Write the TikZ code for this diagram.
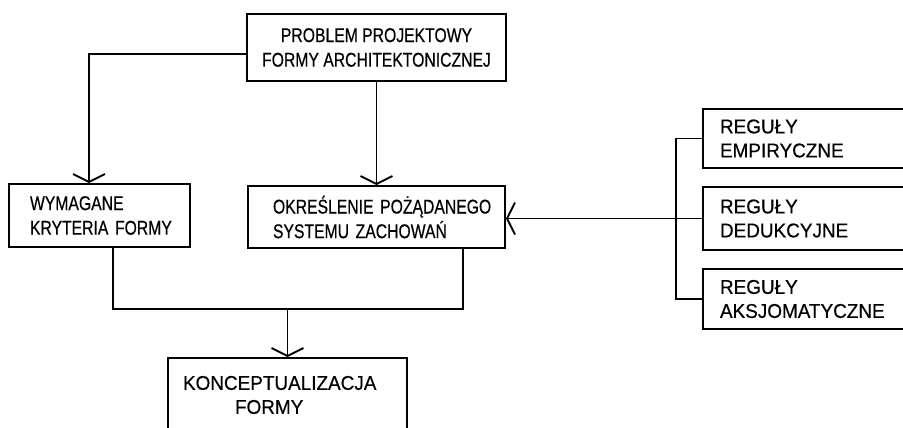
\documentclass[tikz,border=0pt]{standalone}
\usepackage{fontspec}
\setmainfont{Liberation Sans}[FakeStretch=0.95,FakeBold=0.5]
\newfontfamily\condensed{Liberation Sans}[FakeStretch=0.79,FakeBold=0.5]
\usetikzlibrary{arrows.meta}

\begin{document}
\begin{tikzpicture}[x=0.3mm,y=-0.3mm,
  box/.style={draw, line width=1.6pt, inner xsep=0pt, inner ysep=0pt, align=left, font=\fontsize{17}{20.5}\selectfont},
  narrow/.style={font=\condensed\fontsize{17}{21}\selectfont},
  link/.style={draw, line width=1.6pt},
  arr/.style={link, -{Straight Barb[length=2.4mm,width=9.6mm]}}]
\clip (0,0) rectangle (903,427);

\node[box, narrow, align=center, minimum width=77.7mm, minimum height=20.1mm] (problem) at (376.5,47.5) {PROBLEM PROJEKTOWY\\FORMY ARCHITEKTONICZNEJ};
\node[box, narrow, text width=41.7mm, minimum width=54.3mm, minimum height=18.9mm] (kryteria) at (99.5,215.5) {\mbox{WYMAGANE}\\\mbox{KRYTERIA FORMY}};
\node[box, narrow, text width=62.1mm, minimum width=77.1mm, minimum height=18.6mm] (system) at (376.5,217) {\mbox{OKREŚLENIE POŻĄDANEGO}\\\mbox{SYSTEMU ZACHOWAŃ}};
\node[box, text width=66.9mm, minimum width=77.1mm, minimum height=17.7mm] (empiryczne) at (831.5,138.5) {REGUŁY\\EMPIRYCZNE};
\node[box, text width=66.9mm, minimum width=77.1mm, minimum height=18.9mm] (dedukcyjne) at (831.5,218.5) {REGUŁY\\DEDUKCYJNE};
\node[box, text width=66.9mm, minimum width=77.1mm, minimum height=18mm] (aksjomatyczne) at (831.5,299) {REGUŁY\\AKSJOMATYCZNE};
\node[box, text width=62.7mm, minimum width=71.7mm, minimum height=22.2mm] (koncepcja) at (287.5,395) {KONCEPTUALIZACJA\\\hspace*{15.6mm}FORMY};

\coordinate (merge) at (287.5,308);

\path[arr] ([yshift=-1.95mm]problem.west) -| ([xshift=-3.15mm]kryteria.north);
\path[arr] (problem) -- (system);
\path[arr] (dedukcyjne.west) -- (dedukcyjne.west -| system.east);
\path[link] (empiryczne.west) -- ++(-26,0) |- (aksjomatyczne.west);
\path[link] ([xshift=4.05mm]kryteria.south) -- ++(0,61) -| ([xshift=25.95mm]system.south);
\path[arr] (merge) -- (koncepcja);
\end{tikzpicture}
\end{document}
